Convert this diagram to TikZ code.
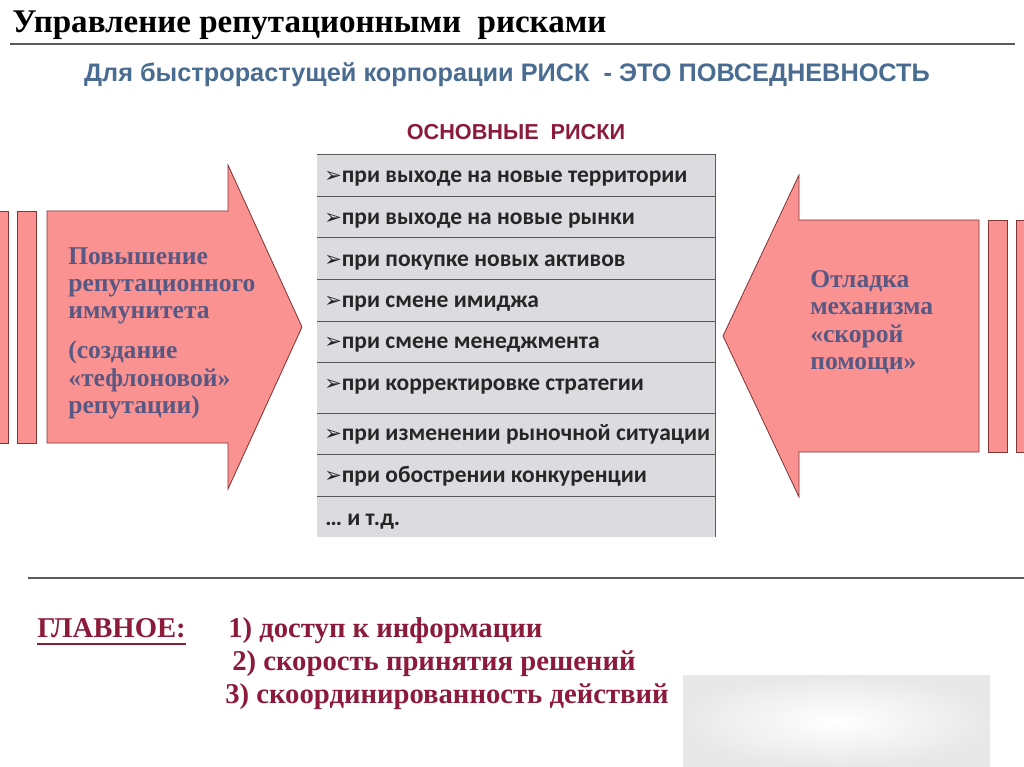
\documentclass[tikz,border=0pt]{standalone}
\usepackage{fontspec}
\setmainfont{Liberation Serif}
\newfontfamily\headsans{Liberation Sans}
\newfontfamily\listsans{Carlito}
\newfontfamily\dingfont{DejaVu Sans}
\usetikzlibrary{positioning}

\definecolor{arrowpink}{RGB}{250,146,146}
\definecolor{arrowedge}{RGB}{130,55,55}
\definecolor{slatetext}{RGB}{88,88,130}
\definecolor{steelblue}{RGB}{74,108,145}
\definecolor{winered}{RGB}{140,26,58}
\definecolor{tablegray}{RGB}{220,220,224}
\definecolor{rulegray}{RGB}{90,90,90}

\newcommand{\riskmark}{{\dingfont\fontsize{15}{15}\selectfont ➢}}

\begin{document}
\begin{tikzpicture}[
    x=0.025cm, y=-0.025cm,
    every node/.style={inner sep=0pt},
    headline/.style={anchor=base west, font=\bfseries\fontsize{23.5}{26}\selectfont},
    arrowshape/.style={draw=arrowedge, fill=arrowpink, line width=0.6pt},
    arrowtext/.style={anchor=north west, align=left, text=slatetext, font=\bfseries\fontsize{18.2}{19.5}\selectfont},
    risk/.style={anchor=base west, text=black!85, font=\listsans\bfseries\fontsize{16.7}{19}\selectfont},
    divider/.style={draw=black!65, line width=0.7pt},
    mainpoint/.style={anchor=base west, text=winered, font=\bfseries\fontsize{20.4}{23}\selectfont}
]
\useasboundingbox (0,0) rectangle (1024,767);

% heading
\node[headline] (title) at (12,33) {Управление репутационными\ \ рисками};
\draw[rulegray, line width=1.5pt] (10,44) -- (1015,44);
\node[anchor=base, text=steelblue, font=\headsans\bfseries\fontsize{18}{20}\selectfont] (motto) at (507,82) {Для быстрорастущей корпорации РИСК\ \ - ЭТО ПОВСЕДНЕВНОСТЬ};

% left arrow
\draw[arrowshape] (-5,211) rectangle (8,443);
\draw[arrowshape] (17,211) rectangle (36,443);
\draw[arrowshape] (47,211) -- (228,211) -- (228,165) -- (302,327) -- (228,489) -- (228,443) -- (47,443) -- cycle;
\node[arrowtext] (immunity) at (68,247) {Повышение\\репутационного\\иммунитета\\[9pt](создание\\«тефлоновой»\\репутации)};

% right arrow
\draw[arrowshape] (979,220) -- (799,220) -- (799,175) -- (723,336) -- (799,497) -- (799,452) -- (979,452) -- cycle;
\draw[arrowshape] (988,220) rectangle (1007,452);
\draw[arrowshape] (1016,220) rectangle (1030,452);
\node[arrowtext] (firstaid) at (810,270) {Отладка\\механизма\\«скорой\\помощи»};

% table of risks
\node[anchor=base, text=winered, font=\headsans\bfseries\fontsize{15.4}{17}\selectfont] (riskhead) at (516,140) {ОСНОВНЫЕ\ \ РИСКИ};
\fill[tablegray] (317,154) rectangle (715,537);
\foreach \y in {154,196,237,279,321,362,413,454,496}
    \draw[divider] (317,\y) -- (715,\y);
\draw[divider] (715,154) -- (715,537);
\node[risk] (r1) at (324,183) {\riskmark при выходе на новые территории};
\node[risk] (r2) at (324,225) {\riskmark при выходе на новые рынки};
\node[risk] (r3) at (324,266) {\riskmark при покупке новых активов};
\node[risk] (r4) at (324,307) {\riskmark при смене имиджа};
\node[risk] (r5) at (324,348) {\riskmark при смене менеджмента};
\node[risk] (r6) at (324,390) {\riskmark при корректировке стратегии};
\node[risk] (r7) at (324,440) {\riskmark при изменении рыночной ситуации};
\node[risk] (r8) at (324,482) {\riskmark при обострении конкуренции};
\node[risk] (r9) at (325,525) {… и т.д.};

% summary
\draw[rulegray, line width=1.8pt] (28,578) -- (1030,578);
\node[mainpoint] (main) at (37,637) {ГЛАВНОЕ:};
\draw[winered, line width=2pt] ([yshift=-5pt]main.base west) -- ([yshift=-5pt]main.base east);
\node[mainpoint] (point1) at (228,637) {1) доступ к информации};
\node[mainpoint] (point2) at (232,670) {2) скорость принятия решений};
\node[mainpoint] (point3) at (225,703) {3) скоординированность действий};
\shade[inner color=white, outer color=black!9] (683,675) rectangle (990,767);
\end{tikzpicture}
\end{document}
